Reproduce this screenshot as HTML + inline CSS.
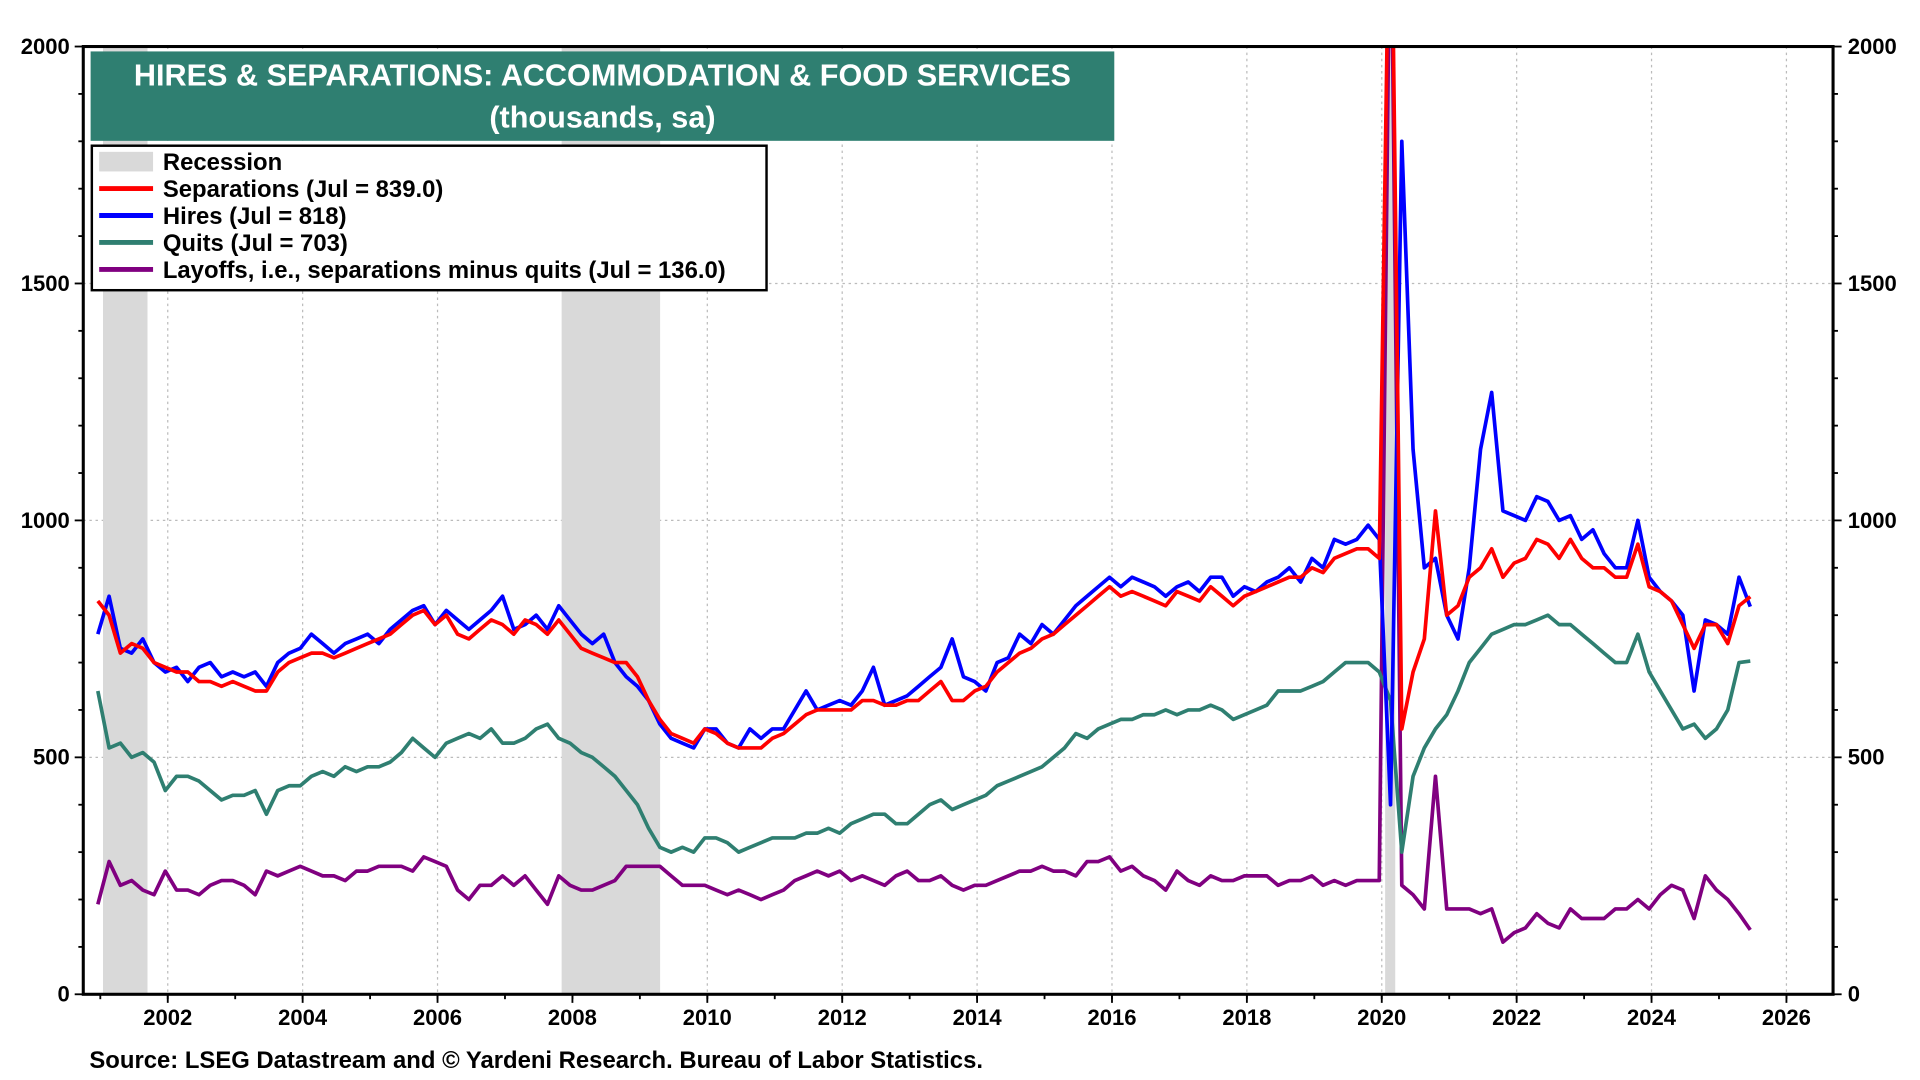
<!DOCTYPE html>
<html><head><meta charset="utf-8"><style>
html,body{margin:0;padding:0;background:#fff;}
svg{display:block;font-family:"Liberation Sans",Arial,sans-serif;font-weight:bold;}
</style></head><body>
<svg id="chart" width="1920" height="1080" viewBox="0 0 1568 882" xmlns="http://www.w3.org/2000/svg">
<defs><clipPath id="plotclip"><rect x="68" y="38" width="1429" height="774"/></clipPath></defs>
<rect x="0" y="0" width="1568" height="882" fill="#fff"/>
<g id="grid"></g>
<g id="recessions" clip-path="url(#plotclip)"></g>
<g id="series" clip-path="url(#plotclip)"></g>
<rect x="68" y="38" width="1429" height="774" fill="none" stroke="#000" stroke-width="2.5"/>
<g id="axes"></g>
<g>
<rect x="74" y="42" width="836" height="73" fill="#2f7f71"/>
<text x="492" y="70" fill="#fff" font-size="25" text-anchor="middle">HIRES &amp; SEPARATIONS: ACCOMMODATION &amp; FOOD SERVICES</text>
<text x="492" y="104" fill="#fff" font-size="25" text-anchor="middle">(thousands, sa)</text>
</g>
<g>
<rect x="75" y="119" width="551" height="118" fill="#fff" stroke="#000" stroke-width="2"/>
<g><rect x="81" y="124" width="44" height="16" fill="#d9d9d9"/><text x="133" y="139" font-size="19.5">Recession</text></g>
<g><line x1="81" y1="154" x2="125" y2="154" stroke="#ff0000" stroke-width="4"/><text x="133" y="161" font-size="19.5">Separations (Jul = 839.0)</text></g>
<g><line x1="81" y1="176" x2="125" y2="176" stroke="#0000ff" stroke-width="4"/><text x="133" y="183" font-size="19.5">Hires (Jul = 818)</text></g>
<g><line x1="81" y1="198" x2="125" y2="198" stroke="#2f7f71" stroke-width="4"/><text x="133" y="205" font-size="19.5">Quits (Jul = 703)</text></g>
<g><line x1="81" y1="220" x2="125" y2="220" stroke="#800080" stroke-width="4"/><text x="133" y="227" font-size="19.5">Layoffs, i.e., separations minus quits (Jul = 136.0)</text></g>
</g>
<text x="73" y="872" font-size="19.5">Source: LSEG Datastream and © Yardeni Research. Bureau of Labor Statistics.</text>
</svg>
<script>
// Bimonthly observations starting Jan 2001 (Jan, Mar, May, Jul, Sep, Nov), ending Jul 2025
const startYear = 2001;
const stepMonths = 2;
const yTicks = [0, 500, 1000, 1500, 2000];
const xTickYears = [2002, 2004, 2006, 2008, 2010, 2012, 2014, 2016, 2018, 2020, 2022, 2024, 2026];
const recessionStarts = [2001.04, 2007.84, 2020.05];
const recessionEnds = [2001.7, 2009.3, 2020.2];
const hires = [760,840,730,720,750,700, 680,690,660,690,700,670, 680,670,680,650,700,720, 730,760,740,720,740,750,
 760,740,770,790,810,820, 780,810,790,770,790,810, 840,770,780,800,770,820, 790,760,740,760,700,670,
 650,620,570,540,530,520, 560,560,530,520,560,540, 560,560,600,640,600,610, 620,610,640,690,610,620,
 630,650,670,690,750,670, 660,640,700,710,760,740, 780,760,790,820,840,860, 880,860,880,870,860,840,
 860,870,850,880,880,840, 860,850,870,880,900,870, 920,900,960,950,960,990, 960,400,1800,1150,900,920,
 800,750,900,1150,1270,1020, 1010,1000,1050,1040,1000,1010, 960,980,930,900,900,1000, 880,850,830,800,640,790,
 780,760,880,818];
const separations = [830,800,720,740,730,700, 690,680,680,660,660,650, 660,650,640,640,680,700, 710,720,720,710,720,730,
 740,750,760,780,800,810, 780,800,760,750,770,790, 780,760,790,780,760,790, 760,730,720,710,700,700,
 670,620,580,550,540,530, 560,550,530,520,520,520, 540,550,570,590,600,600, 600,600,620,620,610,610,
 620,620,640,660,620,620, 640,650,680,700,720,730, 750,760,780,800,820,840, 860,840,850,840,830,820,
 850,840,830,860,840,820, 840,850,860,870,880,880, 900,890,920,930,940,940, 920,2500,560,680,750,1020,
 800,820,880,900,940,880, 910,920,960,950,920,960, 920,900,900,880,880,950, 860,850,830,780,730,780,
 780,740,820,839];
const quits = [640,520,530,500,510,490, 430,460,460,450,430,410, 420,420,430,380,430,440, 440,460,470,460,480,470,
 480,480,490,510,540,520, 500,530,540,550,540,560, 530,530,540,560,570,540, 530,510,500,480,460,430,
 400,350,310,300,310,300, 330,330,320,300,310,320, 330,330,330,340,340,350, 340,360,370,380,380,360,
 360,380,400,410,390,400, 410,420,440,450,460,470, 480,500,520,550,540,560, 570,580,580,590,590,600,
 590,600,600,610,600,580, 590,600,610,640,640,640, 650,660,680,700,700,700, 680,620,300,460,520,560,
 590,640,700,730,760,770, 780,780,790,800,780,780, 760,740,720,700,700,760, 680,640,600,560,570,540,
 560,600,700,703];
const layoffs = [190,280,230,240,220,210, 260,220,220,210,230,240, 240,230,210,260,250,260, 270,260,250,250,240,260,
 260,270,270,270,260,290, 280,270,220,200,230,230, 250,230,250,220,190,250, 230,220,220,230,240,270,
 270,270,270,250,230,230, 230,220,210,220,210,200, 210,220,240,250,260,250, 260,240,250,240,230,250,
 260,240,240,250,230,220, 230,230,240,250,260,260, 270,260,260,250,280,280, 290,260,270,250,240,220,
 260,240,230,250,240,240, 250,250,250,230,240,240, 250,230,240,230,240,240, 240,2400,230,210,180,460,
 180,180,180,170,180,110, 130,140,170,150,140,180, 160,160,160,180,180,200, 180,210,230,220,160,250,
 220,200,170,136];

const NS = "http://www.w3.org/2000/svg";
const X0 = 68, X1 = 1497, Y0 = 812, Y1 = 38;
function xScale(yr){ return 137 + (yr - 2002) * 55.08; }
function dataX(yr){ return xScale(yr) - 2; }
function yScale(v){ return Y0 - (v / 2000) * (Y0 - Y1); }
function tOf(i){ return startYear + i * stepMonths / 12; }
function mk(tag, attrs, parent){ const e = document.createElementNS(NS, tag); for (const k in attrs) e.setAttribute(k, attrs[k]); parent.appendChild(e); return e; }

const grid = document.getElementById('grid');
const axes = document.getElementById('axes');
yTicks.forEach(v => {
  const y = yScale(v);
  if (v > 0 && v < 2000) {
    const g = mk('line', {x1: X0, x2: X1, y1: y, y2: y, stroke: '#bbb', 'stroke-width': 1, 'stroke-dasharray': '2,3'}, grid);
    
    
  }
  const l = mk('text', {x: 57, y: y + 6, 'font-size': 18, 'text-anchor': 'end'}, axes);
  l.textContent = v;
  
  
  const r = mk('text', {x: 1509, y: y + 6, 'font-size': 18}, axes);
  r.textContent = v;
  
  
});
for (let v = 0; v <= 2000; v += 100) {
  const y = yScale(v);
  const big = v % 500 === 0;
  mk('line', {x1: X0 - (big ? 7 : 4), x2: X0, y1: y, y2: y, stroke: '#000', 'stroke-width': 1.5}, axes);
  mk('line', {x1: X1, x2: X1 + (big ? 7 : 4), y1: y, y2: y, stroke: '#000', 'stroke-width': 1.5}, axes);
}
xTickYears.forEach(yr => {
  const x = xScale(yr);
  const g = mk('line', {x1: x, x2: x, y1: Y1, y2: Y0, stroke: '#bbb', 'stroke-width': 1, 'stroke-dasharray': '2,3'}, grid);
  
  
  mk('line', {x1: x, x2: x, y1: Y0, y2: Y0 + 7, stroke: '#000', 'stroke-width': 1.5}, axes);
  const t = mk('text', {x: x, y: Y0 + 25, 'font-size': 18, 'text-anchor': 'middle'}, axes);
  t.textContent = yr;
  
  
});
for (let yr = 2001; yr <= 2027; yr++) {
  const x = xScale(yr);
  if (x > X0 && x < X1) mk('line', {x1: x, x2: x, y1: Y0, y2: Y0 + 4, stroke: '#000', 'stroke-width': 1.5}, axes);
}

const rec = document.getElementById('recessions');
recessionStarts.forEach((s, i) => {
  const x = xScale(s), w = xScale(recessionEnds[i]) - x;
  const r = mk('rect', {x: x, y: Y1, width: w, height: Y0 - Y1, fill: '#d9d9d9'}, rec);
  
  
});

const seriesG = document.getElementById('series');
function drawLine(arr, color, name) {
  const d = arr.map((v, i) => (i ? 'L' : 'M') + dataX(tOf(i)).toFixed(1) + ',' + yScale(v).toFixed(1)).join(' ');
  const p = mk('path', {d: d, fill: 'none', stroke: color, 'stroke-width': 3, 'stroke-linejoin': 'round'}, seriesG);
  
  
}
drawLine(layoffs, '#800080', 'layoffs-line');
drawLine(quits, '#2f7f71', 'quits-line');
drawLine(hires, '#0000ff', 'hires-line');
drawLine(separations, '#ff0000', 'separations-line');
</script>
</body></html>
